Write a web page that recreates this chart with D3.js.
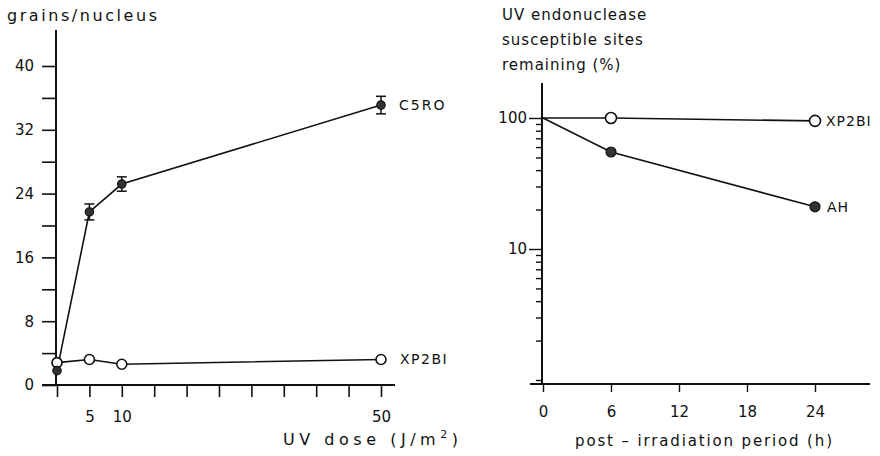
<!DOCTYPE html>
<html>
<head>
<meta charset="utf-8">
<script src="https://cdn.jsdelivr.net/npm/d3@7"></script>
<style>
  body { margin: 0; background: #fff; }
  svg text { font-family: "DejaVu Sans", sans-serif; fill: #111; }
</style>
</head>
<body>
<svg id="chart" width="880" height="456"></svg>
<script>
// left panel: grains/nucleus vs UV dose
const doses = [0, 5, 10, 50];
const c5roGrains = [1.8, 21.7, 25.2, 35.1];
const c5roErr = [0, 1.0, 0.9, 1.1];
const xp2biGrains = [2.8, 3.2, 2.6, 3.2];
const doseTicks = [0, 5, 10, 15, 20, 25, 30, 35, 40, 45, 50];
const doseLabels = [5, 10, 50];
const grainTicks = [0, 4, 8, 12, 16, 20, 24, 28, 32, 36, 40];
const grainLabels = [0, 8, 16, 24, 32, 40];

// right panel: sites remaining vs time
const hours = [0, 6, 24];
const xp2biSites = [100, 100, 95];
const ahSites = [100, 55, 21];
const hourTicks = [0, 6, 12, 18, 24];
const siteLabels = [10, 100];

const svg = d3.select("#chart");
const ink = "#111";

// ---------- left ----------
const xL = d3.scaleLinear().domain([0, 50]).range([57, 381]);
const yL = d3.scaleLinear().domain([0, 40]).range([385, 66]);
const left = svg.append("g");

left.append("line").attr("x1", 56).attr("x2", 56).attr("y1", 30).attr("y2", 385)
  .attr("stroke", ink).attr("stroke-width", 2);
left.append("line").attr("x1", 42).attr("x2", 395).attr("y1", 385).attr("y2", 385)
  .attr("stroke", ink).attr("stroke-width", 2);

const yAxL = left.append("g").attr("transform", "translate(56,0)")
  .call(d3.axisLeft(yL).tickValues(grainTicks).tickSize(14).tickPadding(8)
    .tickFormat(d => grainLabels.includes(d) ? d : ""));
const xAxL = left.append("g").attr("transform", "translate(0,385)")
  .call(d3.axisBottom(xL).tickValues(doseTicks).tickSize(12).tickPadding(14)
    .tickFormat(d => doseLabels.includes(d) ? d : ""));

[yAxL, xAxL].forEach(a => {
  a.select(".domain").remove();
  a.selectAll("line").attr("stroke", ink).attr("stroke-width", 1.6);
  a.selectAll("text").style("font-size", "15px").attr("fill", ink);
});

const lineL = d3.line().x((d, i) => xL(doses[i])).y(d => yL(d));
left.append("path").datum(c5roGrains).attr("d", lineL)
  .attr("fill", "none").attr("stroke", ink).attr("stroke-width", 1.6);
left.append("path").datum(xp2biGrains).attr("d", lineL)
  .attr("fill", "none").attr("stroke", ink).attr("stroke-width", 1.6);

// error bars
c5roGrains.forEach((v, i) => {
  if (!c5roErr[i]) return;
  const x = xL(doses[i]);
  const g = left.append("g").attr("stroke", ink).attr("stroke-width", 1.5);
  g.append("line").attr("x1", x).attr("x2", x).attr("y1", yL(v + c5roErr[i])).attr("y2", yL(v - c5roErr[i]));
  g.append("line").attr("x1", x - 5).attr("x2", x + 5).attr("y1", yL(v + c5roErr[i])).attr("y2", yL(v + c5roErr[i]));
  g.append("line").attr("x1", x - 5).attr("x2", x + 5).attr("y1", yL(v - c5roErr[i])).attr("y2", yL(v - c5roErr[i]));
});

left.selectAll(".xp").data(xp2biGrains).join("circle")
  .attr("cx", (d, i) => xL(doses[i])).attr("cy", d => yL(d)).attr("r", 5)
  .attr("fill", "#fff").attr("stroke", ink).attr("stroke-width", 1.6);
left.selectAll(".c5").data(c5roGrains).join("circle")
  .attr("cx", (d, i) => xL(doses[i])).attr("cy", d => yL(d)).attr("r", 4.2)
  .attr("fill", "#333").attr("stroke", ink).attr("stroke-width", 1.2);

left.append("text").attr("x", 7).attr("y", 21).style("font-size", "16px")
  .attr("textLength", 150).attr("lengthAdjust", "spacing").text("grains/nucleus");
left.append("text").attr("x", 399).attr("y", yL(c5roGrains[3]) + 5).style("font-size", "14px")
  .style("letter-spacing", "2px").text("C5RO");
left.append("text").attr("x", 400).attr("y", yL(xp2biGrains[3]) + 5).style("font-size", "14px")
  .style("letter-spacing", "1.5px").text("XP2BI");
const ud = left.append("text").attr("x", 283).attr("y", 445).style("font-size", "16px")
  .attr("textLength", 175).attr("lengthAdjust", "spacing");
ud.append("tspan").text("UV dose (J/m");
ud.append("tspan").attr("dy", -7).style("font-size", "11px").text("2");
ud.append("tspan").attr("dy", 7).text(")");

// ---------- right ----------
const xR = d3.scaleLinear().domain([0, 24]).range([543, 815]);
const yR = d3.scaleLog().domain([1, 100]).range([380, 118]);
const right = svg.append("g");

right.append("line").attr("x1", 542).attr("x2", 542).attr("y1", 83).attr("y2", 384)
  .attr("stroke", ink).attr("stroke-width", 2);
right.append("line").attr("x1", 530).attr("x2", 870).attr("y1", 384).attr("y2", 384)
  .attr("stroke", ink).attr("stroke-width", 2);

const logTicks = d3.range(1, 10).concat(d3.range(1, 11).map(d => d * 10));
const yAxR = right.append("g").attr("transform", "translate(542,0)")
  .call(d3.axisLeft(yR).tickValues(logTicks).tickSize(6).tickPadding(10)
    .tickFormat(d => siteLabels.includes(d) ? d : ""));
yAxR.selectAll(".tick").filter(d => siteLabels.includes(d)).select("line").attr("x2", -13);
const xAxR = right.append("g").attr("transform", "translate(0,384)")
  .call(d3.axisBottom(xR).tickValues(hourTicks).tickSize(8).tickPadding(14));

[yAxR, xAxR].forEach(a => {
  a.select(".domain").remove();
  a.selectAll("line").attr("stroke", ink).attr("stroke-width", 1.4);
  a.selectAll("text").style("font-size", "15px").attr("fill", ink);
});
yAxR.selectAll("text").attr("x", -15);

const lineR = d3.line().x((d, i) => xR(hours[i])).y(d => yR(d));
right.append("path").datum(xp2biSites).attr("d", lineR)
  .attr("fill", "none").attr("stroke", ink).attr("stroke-width", 1.6);
right.append("path").datum(ahSites).attr("d", lineR)
  .attr("fill", "none").attr("stroke", ink).attr("stroke-width", 1.6);

right.selectAll(".xp").data(xp2biSites.slice(1)).join("circle")
  .attr("cx", (d, i) => xR(hours[i + 1])).attr("cy", d => yR(d)).attr("r", 5.5)
  .attr("fill", "#fff").attr("stroke", ink).attr("stroke-width", 1.6);
right.selectAll(".ah").data(ahSites.slice(1)).join("circle")
  .attr("cx", (d, i) => xR(hours[i + 1])).attr("cy", d => yR(d)).attr("r", 5)
  .attr("fill", "#333").attr("stroke", ink).attr("stroke-width", 1.2);

right.append("text").attr("x", 826).attr("y", yR(xp2biSites[2]) + 5).style("font-size", "14px")
  .style("letter-spacing", "1px").text("XP2BI");
right.append("text").attr("x", 827).attr("y", yR(ahSites[2]) + 5).style("font-size", "14px")
  .style("letter-spacing", "1px").text("AH");

["UV endonuclease", "susceptible sites", "remaining (%)"].forEach((t, i) => {
  right.append("text").attr("x", 502).attr("y", 20 + i * 25).style("font-size", "15px")
    .style("letter-spacing", "1px").text(t);
});
right.append("text").attr("x", 575).attr("y", 446).style("font-size", "15px")
  .attr("textLength", 257).attr("lengthAdjust", "spacing").text("post – irradiation period (h)");
</script>
</body>
</html>
